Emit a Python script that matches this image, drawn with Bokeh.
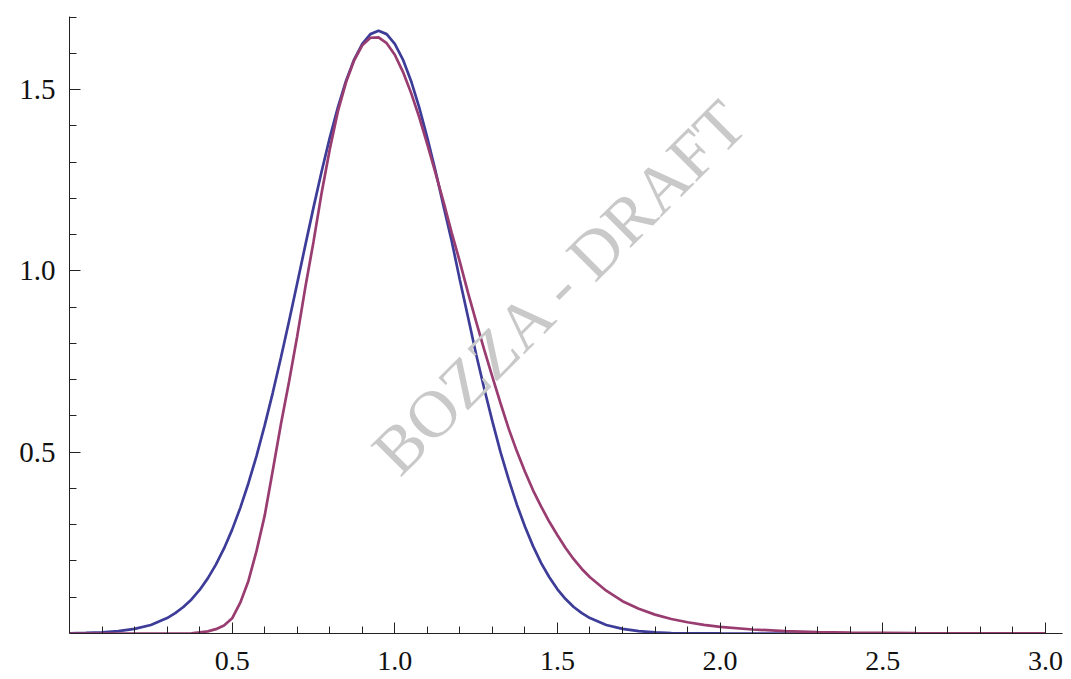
import math
from bokeh.plotting import figure
from bokeh.models import Range1d, FixedTicker, Label
from bokeh.embed import file_html
from bokeh.resources import INLINE

# ---- data ----
x_values = [
    0.0, 0.05, 0.1, 0.15, 0.2, 0.25, 0.3,
    0.325, 0.35, 0.375, 0.4,
    0.425, 0.45, 0.475, 0.5,
    0.525, 0.55, 0.575, 0.6,
    0.625, 0.65, 0.675, 0.7,
    0.725, 0.75, 0.775, 0.8,
    0.825, 0.85, 0.875, 0.9,
    0.925, 0.95, 0.975, 1.0,
    1.025, 1.05, 1.075, 1.1,
    1.125, 1.15, 1.175, 1.2,
    1.225, 1.25, 1.275, 1.3,
    1.325, 1.35, 1.375, 1.4,
    1.425, 1.45, 1.475, 1.5,
    1.525, 1.55, 1.575, 1.6,
    1.65, 1.7, 1.75, 1.8, 1.85, 1.9, 1.95, 2.0,
    2.1, 2.2, 2.3, 2.4, 2.6, 2.8, 3.0,
]
blue_values = [
    0.0007, 0.0015, 0.003, 0.0064, 0.0126, 0.0236, 0.0425,
    0.056, 0.073, 0.094, 0.120,
    0.152, 0.190, 0.2345, 0.2865,
    0.3465, 0.4145, 0.490, 0.574,
    0.6645, 0.761, 0.862, 0.966,
    1.071, 1.1745, 1.274, 1.367,
    1.451, 1.524, 1.583, 1.626,
    1.653, 1.662, 1.653, 1.626,
    1.583, 1.524, 1.451, 1.367,
    1.276, 1.178, 1.082, 0.975,
    0.873, 0.770, 0.675, 0.585,
    0.500, 0.425, 0.356, 0.295,
    0.241, 0.194, 0.155, 0.122,
    0.095, 0.073, 0.056, 0.0425,
    0.0236, 0.0126, 0.0065, 0.003, 0.0014, 0.0007, 0.0003, 0.0001,
    0.0, 0.0, 0.0, 0.0, 0.0, 0.0, 0.0,
]
purple_values = [
    0.0, 0.0, 0.0, 0.0, 0.0, 0.0, 0.0,
    0.0, 0.0, 0.0005, 0.003,
    0.006, 0.012, 0.022, 0.042,
    0.085, 0.145, 0.228, 0.325,
    0.450, 0.578, 0.695, 0.820,
    0.955, 1.080, 1.215, 1.335,
    1.440, 1.520, 1.581, 1.622,
    1.643, 1.644, 1.628, 1.596,
    1.549, 1.491, 1.424, 1.349,
    1.270, 1.190, 1.105, 1.025,
    0.940, 0.860, 0.782, 0.708,
    0.635, 0.565, 0.503, 0.447,
    0.395, 0.350, 0.308, 0.271,
    0.236, 0.205, 0.178, 0.155,
    0.118, 0.089, 0.068, 0.052, 0.040, 0.031, 0.024, 0.0185,
    0.011, 0.0066, 0.004, 0.0025, 0.001, 0.0004, 0.0001,
]

x_major_ticks = [0.5, 1.0, 1.5, 2.0, 2.5, 3.0]
x_tick_labels = ["0.5", "1.0", "1.5", "2.0", "2.5", "3.0"]
x_minor_ticks = [0.1, 0.2, 0.3, 0.4, 0.6, 0.7, 0.8, 0.9, 1.1, 1.2, 1.3, 1.4,
                 1.6, 1.7, 1.8, 1.9, 2.1, 2.2, 2.3, 2.4, 2.6, 2.7, 2.8, 2.9]
y_major_ticks = [0.5, 1.0, 1.5]
y_tick_labels = ["0.5", "1.0", "1.5"]
y_minor_ticks = [0.1, 0.2, 0.3, 0.4, 0.6, 0.7, 0.8, 0.9, 1.1, 1.2, 1.3, 1.4, 1.6, 1.7]
watermark_text = "BOZZA - DRAFT"

# ---- layout ----
PX_PER_X = 325.3
PX_PER_Y = 362.6
FRAME_W = 993
FRAME_H = 617
x_start = 0.0
x_end = FRAME_W / PX_PER_X
y_start = 0.0
y_end = FRAME_H / PX_PER_Y

p = figure(frame_width=FRAME_W, frame_height=FRAME_H,
           x_range=Range1d(x_start, x_end), y_range=Range1d(y_start, y_end),
           output_backend="svg", toolbar_location=None,
           min_border_left=69, min_border_right=1, min_border_top=16,
           min_border_bottom=46)
p.border_fill_color = "white"
p.background_fill_color = "white"
p.outline_line_color = None
p.grid.visible = False

p.xaxis.ticker = FixedTicker(ticks=x_major_ticks, minor_ticks=x_minor_ticks)
p.yaxis.ticker = FixedTicker(ticks=y_major_ticks, minor_ticks=y_minor_ticks)
p.xaxis.major_label_overrides = dict(zip(x_major_ticks, x_tick_labels))
p.yaxis.major_label_overrides = dict(zip(y_major_ticks, y_tick_labels))

for ax in (p.xaxis, p.yaxis):
    ax.axis_line_color = "#222222"
    ax.axis_line_width = 1
    ax.major_tick_line_color = "#222222"
    ax.minor_tick_line_color = "#222222"
    ax.major_tick_in = 11
    ax.major_tick_out = 0
    ax.minor_tick_in = 7
    ax.minor_tick_out = 0
    ax.major_label_text_font = "Liberation Serif"
    ax.major_label_text_color = "#111111"
p.xaxis.major_label_text_font_size = "28px"
p.yaxis.major_label_text_font_size = "29px"
p.xaxis.major_label_standoff = 18
p.yaxis.major_label_standoff = 14

p.line(x_values, blue_values, line_color="#3d3d99", line_width=2.7)
p.line(x_values, purple_values, line_color="#993d71", line_width=2.7)

wm = Label(x=1.508, y=0.959, text=watermark_text, angle=math.pi / 4,
           text_align="center", text_baseline="middle",
           text_font="Liberation Serif", text_font_size="67px",
           text_color="#c9c9c9")
p.add_layout(wm)

open("out.html", "w").write(file_html(p, INLINE))
